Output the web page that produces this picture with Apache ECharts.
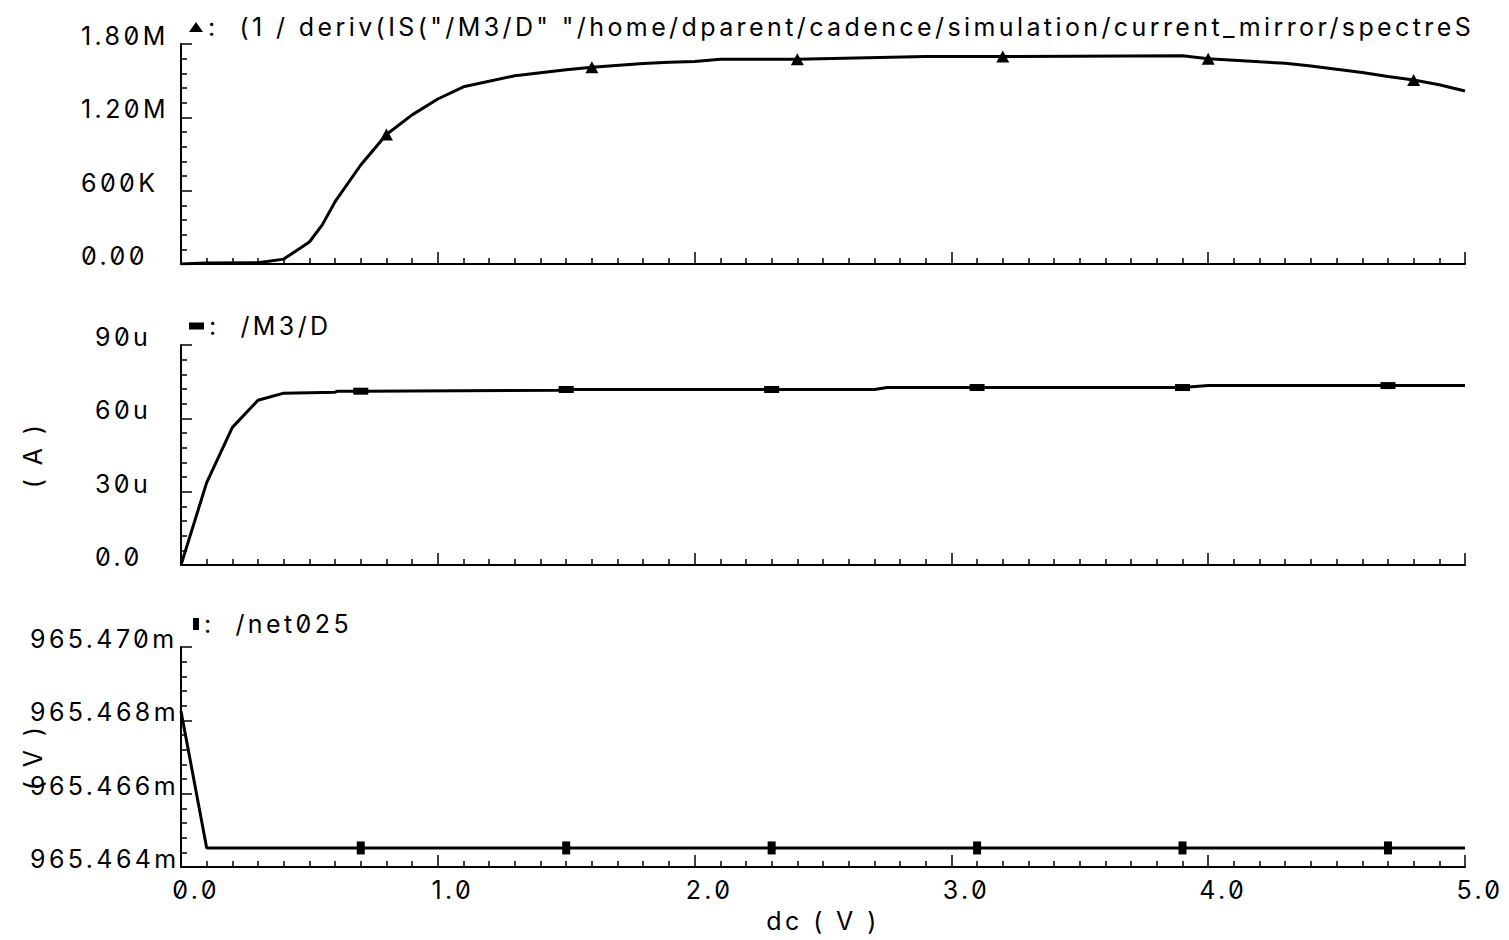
<!DOCTYPE html>
<html>
<head>
<meta charset="utf-8">
<script src="https://cdn.jsdelivr.net/npm/echarts@6/dist/echarts.min.js"></script>
<style>
  html, body { margin: 0; padding: 0; background: #fff; }
  #chart { width: 1509px; height: 940px; }
  /* slashed zeros and the wide spacing of the waveform viewer font */
  #chart text { font-feature-settings: "zero" 1 !important; letter-spacing: 3.4px !important; }
</style>
</head>
<body>
<div id="chart"></div>
<script>
// ---- DC sweep results (x: dc source voltage in V) ----
// output resistance 1 / deriv(IS("/M3/D")), in ohms
const rSweep = [0, 0.1, 0.3, 0.4, 0.5, 0.55, 0.6, 0.7, 0.8, 0.9, 1.0, 1.1, 1.3, 1.5, 1.6, 1.8, 1.9,
                2.0, 2.1, 2.4, 2.9, 3.2, 3.9, 4.0, 4.2, 4.3, 4.4, 4.5, 4.6, 4.7, 4.8, 4.9, 5.0];
const rOut   = [0, 0.008e6, 0.01e6, 0.04e6, 0.18e6, 0.32e6, 0.51e6, 0.81e6, 1.06e6, 1.22e6, 1.35e6,
                1.45e6, 1.54e6, 1.59e6, 1.61e6, 1.64e6, 1.65e6, 1.656e6, 1.676e6, 1.676e6, 1.697e6,
                1.697e6, 1.703e6, 1.68e6, 1.654e6, 1.643e6, 1.62e6, 1.594e6, 1.567e6, 1.534e6,
                1.506e6, 1.467e6, 1.416e6];
const rMarks = [0.8, 1.6, 2.4, 3.2, 4.0, 4.8];

// drain current of M3, in uA
const iSweep = [0, 0.1, 0.2, 0.3, 0.4, 0.6, 0.61, 0.7, 1.47, 1.5, 2.3, 2.7, 2.75, 3.1, 3.9, 4.0, 4.7, 5.0];
const iDrain = [0, 33.7, 56.3, 67.4, 70.3, 70.7, 71.1, 71.1, 71.5, 71.8, 71.8, 71.8, 72.6, 72.6,
                72.6, 73.4, 73.4, 73.4];
const iMarks = [0.7, 1.5, 2.3, 3.1, 3.9, 4.7];

// node voltage /net025, in mV
const vSweep = [0, 0.1, 0.7, 1.5, 2.3, 3.1, 3.9, 4.7, 5.0];
const vNet   = [965.46825, 965.46452, 965.46452, 965.46452, 965.46452, 965.46452, 965.46452,
                965.46452, 965.46452];
const vMarks = [0.7, 1.5, 2.3, 3.1, 3.9, 4.7];

// axis tick labels
const dcTickLabels = ['0.0', '1.0', '2.0', '3.0', '4.0', '5.0'];
const rTickLabels  = ['0.00', '600K', '1.20M', '1.80M'];
const iTickLabels  = ['0.0', '30u', '60u', '90u'];
const vTickLabels  = ['965.464m', '965.466m', '965.468m', '965.470m'];

const seriesNames = [
  '(1 / deriv(IS("/M3/D" "/home/dparent/cadence/simulation/current_mirror/spectreS',
  '/M3/D',
  '/net025'
];

const FONT = 'Inter';
const FS = 25;
const FW = 400;
const INK = '#000';

function pairs(xs, ys) { return xs.map((x, i) => [x, ys[i]]); }
function labelFrom(list, min, step) {
  return v => list[Math.round((v - min) / step)] ?? '';
}

const panels = [
  { top: 44,  min: 0,       max: 1.8e6,   step: 0.6e6,  labels: rTickLabels, margin: 100 },
  { top: 345, min: 0,       max: 90,      step: 30,     labels: iTickLabels, margin: 86, name: '( A )' },
  { top: 647, min: 965.464, max: 965.470, step: 0.002,  labels: vTickLabels, margin: 151, name: '( V )' }
];

const grids = panels.map(p => ({
  left: 181, right: 44, top: p.top, height: 220,
  containLabel: false, outerBoundsMode: 'none'
}));

const xAxes = panels.map((p, i) => ({
  type: 'value', gridIndex: i, min: 0, max: 5, interval: 1,
  axisLine: { show: true, onZero: false, lineStyle: { color: INK, width: 2 } },
  axisTick: { show: true, inside: true, length: 12, lineStyle: { color: INK, width: 1.5 } },
  minorTick: { show: true, splitNumber: 10, length: 6, lineStyle: { color: INK, width: 1.5 } },
  splitLine: { show: false },
  axisLabel: {
    show: i === 2, color: INK, fontFamily: FONT, fontSize: FS, fontWeight: FW,
    margin: 10, padding: [0, 0, 0, 30], align: 'center',
    formatter: labelFrom(dcTickLabels, 0, 1)
  },
  name: i === 2 ? 'dc ( V )' : '',
  nameLocation: 'middle', nameGap: 41, nameMoveOverlap: false,
  nameTextStyle: { color: INK, fontFamily: FONT, fontSize: FS, fontWeight: FW }
}));

const yAxes = panels.map((p, i) => ({
  type: 'value', gridIndex: i, min: p.min, max: p.max, interval: p.step,
  axisLine: { show: true, onZero: false, lineStyle: { color: INK, width: 2 } },
  axisTick: { show: true, inside: true, length: 11, lineStyle: { color: INK, width: 1.5 } },
  minorTick: { show: true, splitNumber: 5, length: 6, lineStyle: { color: INK, width: 1.5 } },
  splitLine: { show: false },
  axisLabel: {
    color: INK, fontFamily: FONT, fontSize: FS, fontWeight: FW,
    align: 'left', verticalAlign: 'bottom', lineHeight: 16, margin: p.margin,
    formatter: labelFrom(p.labels, p.min, p.step)
  },
  name: p.name || '',
  nameLocation: 'middle', nameRotate: 90, nameGap: 136, nameMoveOverlap: false,
  nameTextStyle: { color: INK, fontFamily: FONT, fontSize: FS, fontWeight: FW }
}));

function markedSymbol(marks, shape) {
  return v => marks.some(m => Math.abs(m - v[0]) < 1e-9) ? shape : 'none';
}

const traceDefs = [
  { xs: rSweep, ys: rOut,   marks: rMarks, shape: 'triangle', size: [13, 12] },
  { xs: iSweep, ys: iDrain, marks: iMarks, shape: 'rect',     size: [15, 7] },
  { xs: vSweep, ys: vNet,   marks: vMarks, shape: 'rect',     size: [8, 13] }
];

const series = traceDefs.map((t, i) => ({
  name: seriesNames[i], type: 'line', xAxisIndex: i, yAxisIndex: i,
  data: pairs(t.xs, t.ys),
  showSymbol: true, showAllSymbol: true,
  symbol: markedSymbol(t.marks, t.shape), symbolSize: t.size,
  itemStyle: { color: INK },
  lineStyle: { color: INK, width: 3 },
  emphasis: { disabled: true },
  animation: false
}));

const legendTops = [13, 312, 610];
const legendIcons = [
  { icon: 'triangle', w: 14, h: 10 },
  { icon: 'rect', w: 15, h: 7 },
  { icon: 'rect', w: 6, h: 12 }
];
const legends = seriesNames.map((n, i) => ({
  data: [{ name: n, icon: legendIcons[i].icon }],
  left: i === 2 ? 193 : 189, top: legendTops[i], padding: 0,
  itemWidth: legendIcons[i].w, itemHeight: legendIcons[i].h,
  selectedMode: false,
  formatter: name => ':  ' + name,
  textStyle: { color: INK, fontFamily: FONT, fontSize: FS, fontWeight: FW, lineHeight: 28 }
}));

const chart = echarts.init(document.getElementById('chart'), null, { renderer: 'svg' });
chart.setOption({
  backgroundColor: '#fff',
  animation: false,
  grid: grids,
  xAxis: xAxes,
  yAxis: yAxes,
  legend: legends,
  series: series
});
</script>
</body>
</html>
